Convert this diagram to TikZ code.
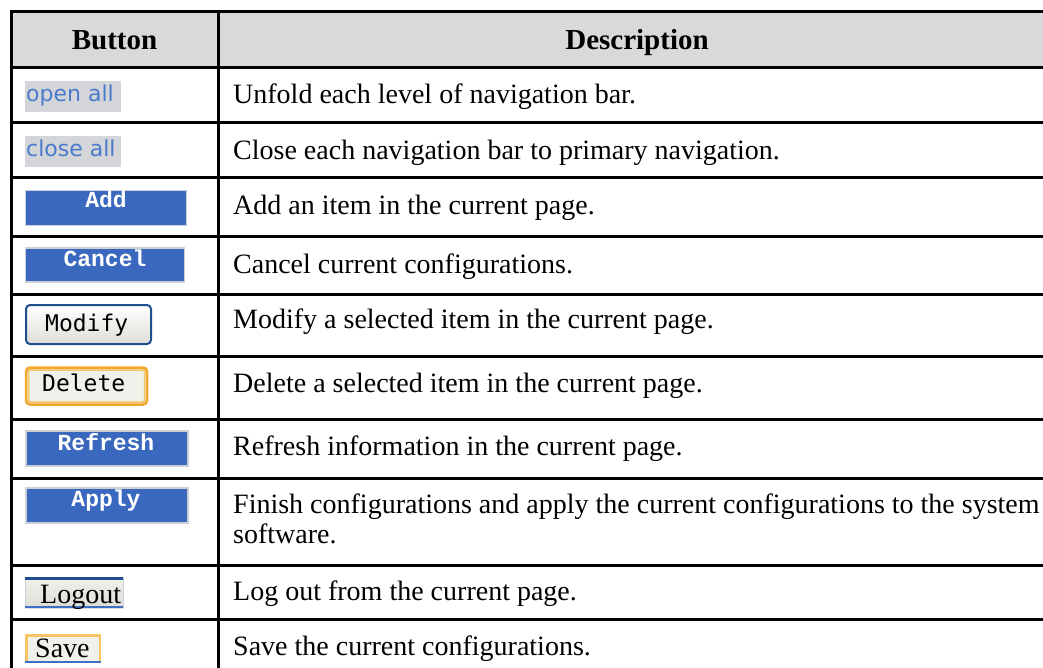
\documentclass[tikz,border=0pt]{standalone}
\usepackage{fontspec}
\setmainfont{Liberation Serif}
\newfontfamily\uisans{DejaVu Sans}
\newfontfamily\uimono{DejaVu Sans Mono}
\newfontfamily\uicourier{Liberation Mono}

\definecolor{hdrgray}{HTML}{D9D9D9}
\definecolor{navgray}{HTML}{D3D5D8}
\definecolor{navtext}{HTML}{4A7BCB}
\definecolor{btnblue}{HTML}{3A68BF}
\definecolor{btnedge}{HTML}{CBCFD6}
\definecolor{navy}{HTML}{1F4F8F}
\definecolor{amber}{HTML}{F0A92C}
\definecolor{gold}{HTML}{F6C462}
\definecolor{linkblue}{HTML}{3F6FC4}
\definecolor{btnface}{HTML}{F1F1EC}
\definecolor{btnshade}{HTML}{DEDED8}

\tikzset{
  rule/.style={line width=3pt, black},
  hdr/.style={anchor=base, inner sep=0pt, font=\fontsize{29}{33}\selectfont\bfseries},
  desc/.style={anchor=base west, inner sep=0pt, font=\fontsize{28}{31}\selectfont},
  boxnode/.style={anchor=north west, inner sep=0pt, outer sep=0pt},
  navbox/.style={boxnode, fill=navgray},
  navlabel/.style={anchor=base west, inner sep=0pt, text=navtext, font=\uisans\fontsize{22}{26}\selectfont},
  bluebox/.style={boxnode, fill=btnblue, draw=btnedge, line width=1.5pt},
  bluelabel/.style={anchor=base, inner sep=0pt, text=white, font=\uicourier\bfseries\fontsize{23}{26}\selectfont},
  monolabel/.style={anchor=base west, inner sep=0pt, font=\uimono\fontsize{23}{26}\selectfont},
  seriflabel/.style={anchor=base west, inner sep=0pt, font=\fontsize{28}{32}\selectfont},
}

\begin{document}
\begin{tikzpicture}[x=1pt, y=-1pt]
  \fill[white] (0,0) rectangle (1043,668);
  \path[use as bounding box] (0,0) rectangle (1043,668);

  % table grid
  \begin{scope}
    \clip (0,0) rectangle (1043,668);
    \fill[hdrgray] (11,12) rectangle (1060,68);
    \foreach \y in {12,68,123,178,237,294,356,419,478,565,619}
      \draw[rule] (9.5,\y) -- (1060,\y);
    \draw[rule] (11,10.5) -- (11,690);
    \draw[rule] (218,12) -- (218,690);
  \end{scope}

  % header
  \node[hdr] (hbutton) at (114.5,50) {Button};
  \node[hdr] (hdesc) at (637,50) {Description};

  % open all / close all
  \node[navbox, minimum width=96pt, minimum height=31pt] (openbox) at (25,81) {};
  \node[navlabel] (openlbl) at (26,101.5) {open all};
  \node[navbox, minimum width=96pt, minimum height=31pt] (closebox) at (25,136) {};
  \node[navlabel] (closelbl) at (26,157) {close all};

  % blue buttons
  \node[bluebox, minimum width=161pt, minimum height=35pt] (addbox) at (25.5,190.5) {};
  \node[bluelabel] (addlbl) at (106,208) {Add};
  \node[bluebox, minimum width=159pt, minimum height=34pt] (cancelbox) at (25.5,248) {};
  \node[bluelabel] (cancellbl) at (105,266) {Cancel};

  % Modify button
  \node[boxnode, draw=navy, line width=2pt, rounded corners=4pt,
        top color=white, bottom color=btnshade,
        minimum width=125pt, minimum height=39pt] (modbox) at (26,305) {};
  \node[monolabel] (modlbl) at (45,331) {Modify};

  % Delete button
  \node[boxnode, draw=amber, line width=2.5pt, rounded corners=4pt,
        fill=btnface, minimum width=121pt, minimum height=37pt] (delbox) at (26,367.5) {};
  \draw[gold, line width=1.5pt, rounded corners=2pt]
    ([shift={(2.5pt,-2.5pt)}]delbox.north west) rectangle ([shift={(-2.5pt,2.5pt)}]delbox.south east);
  \node[monolabel] (dellbl) at (42,391) {Delete};

  \node[bluebox, minimum width=162pt, minimum height=35pt] (refbox) at (26,431) {};
  \node[bluelabel] (reflbl) at (106,450) {Refresh};
  \node[bluebox, minimum width=162pt, minimum height=35pt] (appbox) at (26,488) {};
  \node[bluelabel] (applbl) at (106,506) {Apply};

  % Logout button
  \node[boxnode, top color=btnface, bottom color=btnshade,
        minimum width=98pt, minimum height=31pt] (logbox) at (25,577) {};
  \draw[btnedge, line width=1pt] (logbox.north west) -- (logbox.south west)
    (logbox.north east) -- (logbox.south east);
  \draw[navy, line width=3pt] ([yshift=-1.5pt]logbox.north west) -- ([yshift=-1.5pt]logbox.north east);
  \draw[linkblue, line width=2pt] ([yshift=1pt]logbox.south west) -- ([yshift=1pt]logbox.south east);
  \node[seriflabel] (loglbl) at (40,603) {Logout};

  % Save button
  \node[boxnode, fill=btnface, minimum width=76pt, minimum height=29pt] (savebox) at (25,634) {};
  \draw[gold, line width=2.5pt]
    ([shift={(1.25pt,2pt)}]savebox.south west) -- ([shift={(1.25pt,-1.25pt)}]savebox.north west)
    -- ([shift={(-1.25pt,-1.25pt)}]savebox.north east) -- ([shift={(-1.25pt,2pt)}]savebox.south east);
  \draw[linkblue, line width=2pt] ([yshift=1pt]savebox.south west) -- ([yshift=1pt]savebox.south east);
  \node[seriflabel] (savelbl) at (35,657) {Save};

  % descriptions
  \node[desc] (d1) at (233,104) {Unfold each level of navigation bar.};
  \node[desc] (d2) at (233,160) {Close each navigation bar to primary navigation.};
  \node[desc] (d3) at (233,215) {Add an item in the current page.};
  \node[desc] (d4) at (233,273) {Cancel current configurations.};
  \node[desc] (d5) at (233,328) {Modify a selected item in the current page.};
  \node[desc] (d6) at (233,392) {Delete a selected item in the current page.};
  \node[desc] (d7) at (233,455) {Refresh information in the current page.};
  \node[desc] (d8) at (233,513) {Finish configurations and apply the current configurations to the system};
  \node[desc] (d8b) at (233,543) {software.};
  \node[desc] (d9) at (233,600) {Log out from the current page.};
  \node[desc] (d10) at (233,655) {Save the current configurations.};
\end{tikzpicture}
\end{document}
